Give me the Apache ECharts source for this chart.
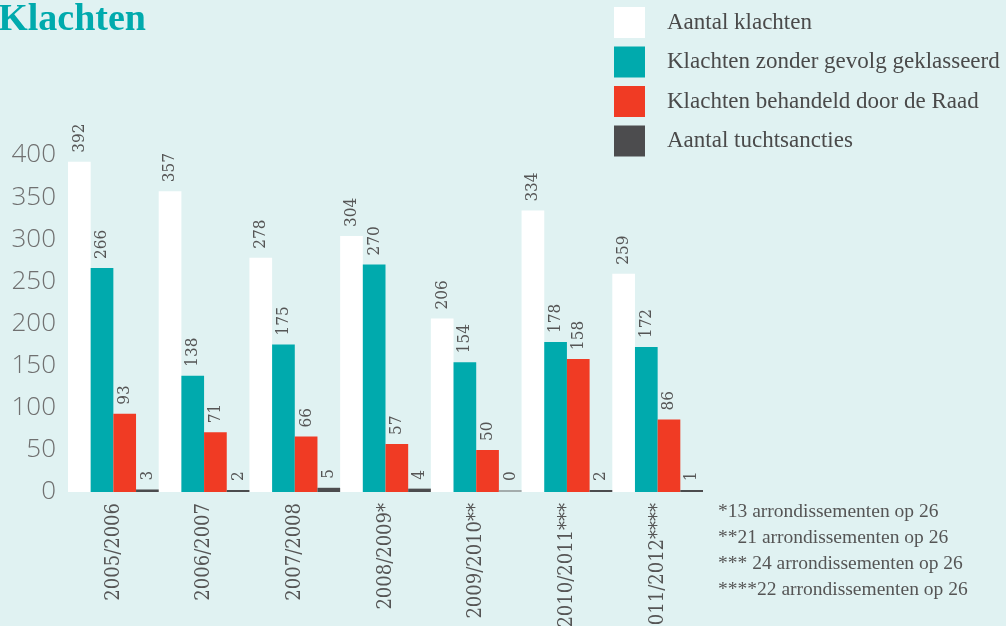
<!DOCTYPE html>
<html>
<head>
<meta charset="utf-8">
<script src="https://cdn.jsdelivr.net/npm/echarts@6/dist/echarts.min.js"></script>
<style>
  html, body { margin: 0; padding: 0; background: #e0f2f2; }
  #chart { width: 1006px; height: 626px; }
</style>
</head>
<body>
<div id="chart"></div>
<script>
const years = ['2005/2006', '2006/2007', '2007/2008', '2008/2009*', '2009/2010**', '2010/2011***', '2011/2012****']
const seriesNames = ['Aantal klachten', 'Klachten zonder gevolg geklasseerd', 'Klachten behandeld door de Raad', 'Aantal tuchtsancties']
const aantalKlachten = [392, 357, 278, 304, 206, 334, 259]
const zonderGevolg = [266, 138, 175, 270, 154, 178, 172]
const behandeld = [93, 71, 66, 57, 50, 158, 86]
const tuchtsancties = [3, 2, 5, 4, 0, 2, 1]
const yTicks = [0, 50, 100, 150, 200, 250, 300, 350, 400]
const footnotes = [
  '*13 arrondissementen op 26',
  '**21 arrondissementen op 26',
  '*** 24 arrondissementen op 26',
  '****22 arrondissementen op 26'
]

const colors = ['#ffffff', '#00aaad', '#f03b24', '#4c4c4e']
const serif = 'Liberation Serif'
const rotSerif = '"DejaVu Serif Condensed"'

const chart = echarts.init(document.getElementById('chart'))

// label boven de staaf, verticaal gedraaid
const valueLabel = {
  show: true,
  position: 'top',
  rotate: 90,
  align: 'left',
  verticalAlign: 'middle',
  distance: 9,
  fontFamily: rotSerif,
  fontSize: 17,
  color: '#555'
}

const allData = [aantalKlachten, zonderGevolg, behandeld, tuchtsancties]

const series = allData.map((data, i) => ({
  name: seriesNames[i],
  type: 'bar',
  data,
  barGap: '0%',
  barCategoryGap: '0%',
  barMinHeight: i === 3 ? 2 : 0,
  itemStyle: {
    // 0-waarde als lichtgrijs streepje
    color: i === 3
      ? (p => p.value === 0 ? '#a4acac' : colors[3])
      : colors[i]
  },
  label: valueLabel
}))

const option = {
  backgroundColor: '#e0f2f2',
  animation: false,
  color: colors,
  textStyle: { fontFamily: serif },
  grid: { left: 68, right: 303, top: 155, bottom: 134, outerBoundsMode: 'none' },
  legend: {
    data: seriesNames.map((n, i) => ({ name: n, itemStyle: { color: colors[i] } })),
    orient: 'vertical',
    left: 609,
    top: 2,
    icon: 'rect',
    itemWidth: 31,
    itemHeight: 31,
    itemGap: 8.5,
    selectedMode: false,
    textStyle: {
      fontFamily: serif,
      fontSize: 23,
      color: '#4a4a4a',
      padding: [0, 0, 0, 17]
    }
  },
  xAxis: {
    type: 'category',
    data: years,
    axisLine: { show: false },
    axisTick: { show: false },
    axisLabel: {
      rotate: 90,
      margin: 11,
      interval: 0,
      fontFamily: rotSerif,
      fontSize: 20,
      color: '#555'
    }
  },
  yAxis: {
    type: 'value',
    min: yTicks[0],
    max: yTicks[yTicks.length - 1],
    interval: 50,
    axisLine: { show: false },
    axisTick: { show: false },
    splitLine: { show: false },
    axisLabel: {
      margin: 12,
      fontFamily: 'Open Sans',
      fontWeight: 300,
      fontSize: 26,
      color: '#707070',
      padding: [6, 0, 0, 0]
    }
  },
  graphic: [
    {
      type: 'text',
      x: 146,
      y: 1,
      style: {
        text: 'Klachten',
        align: 'right',
        fill: '#00aaad',
        font: 'bold 38px "Liberation Serif", serif'
      }
    },
    ...footnotes.map((t, i) => ({
      type: 'text',
      x: 718,
      y: 512 + i * 26,
      style: {
        text: t,
        verticalAlign: 'middle',
        fill: '#555',
        font: '19.5px "Liberation Serif", serif'
      }
    }))
  ],
  series
}

chart.setOption(option)
</script>
</body>
</html>
